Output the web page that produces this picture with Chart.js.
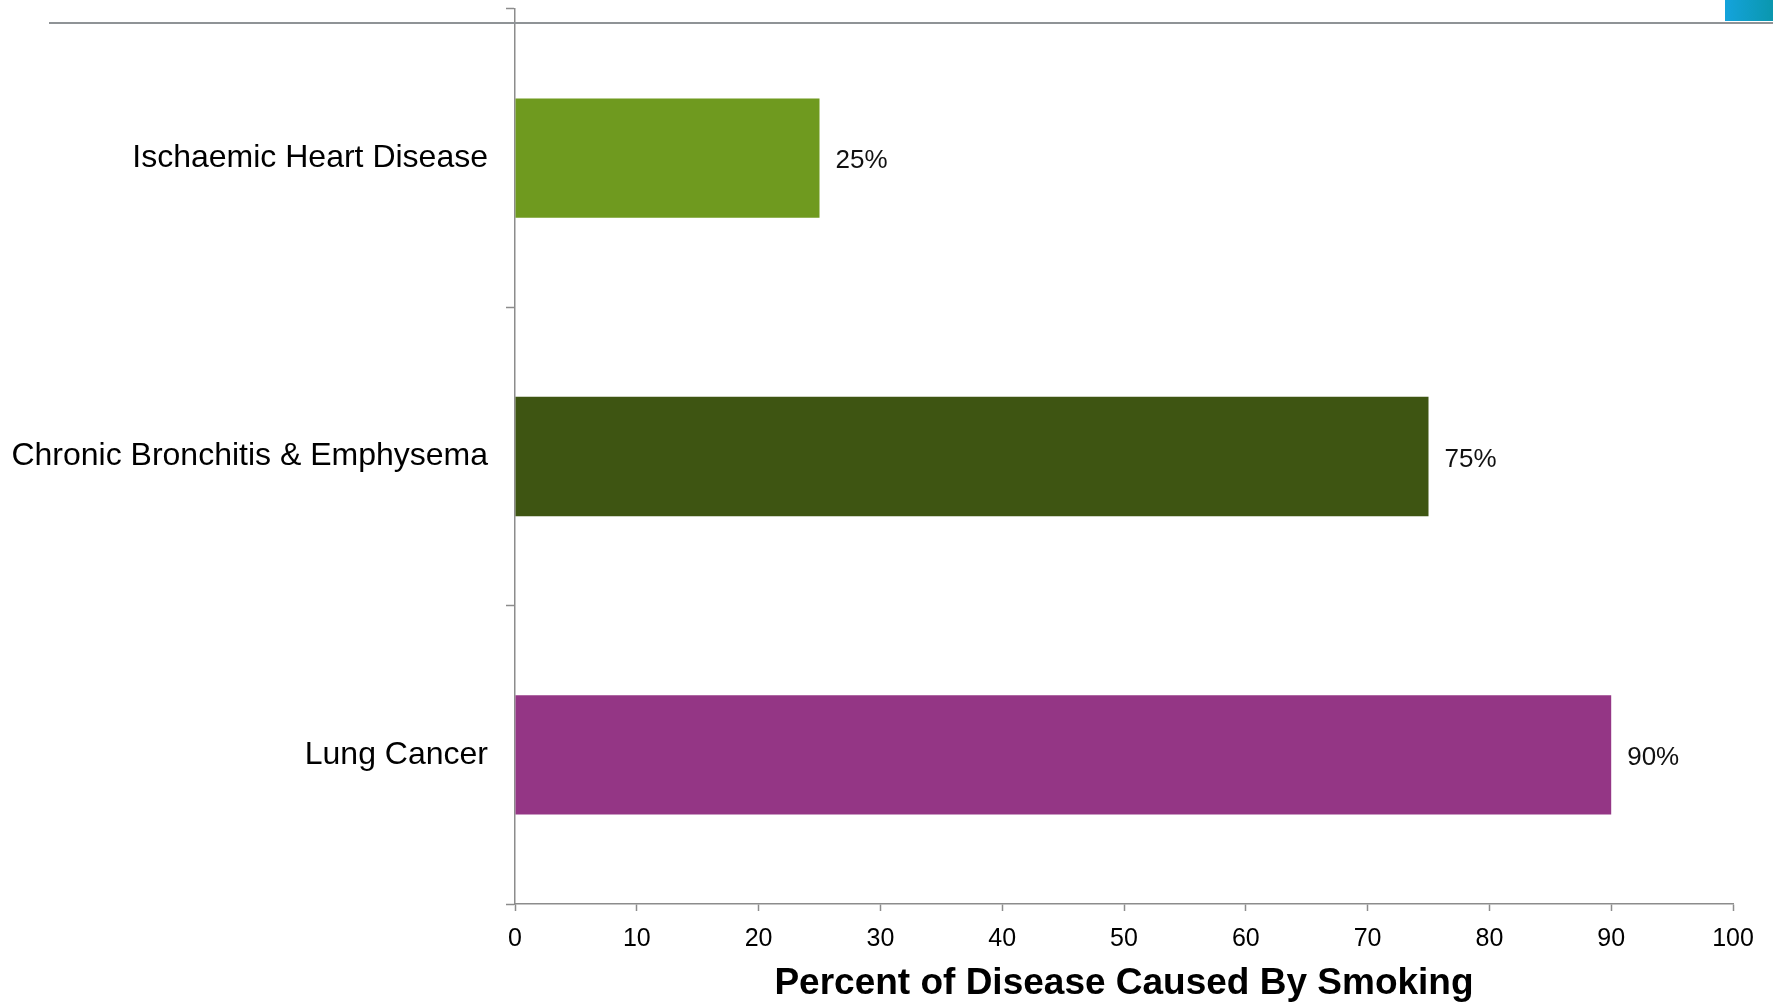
<!DOCTYPE html>
<html>
<head>
<meta charset="utf-8">
<script src="https://cdn.jsdelivr.net/npm/chart.js@4/dist/chart.umd.min.js"></script>
<style>
  html, body { margin: 0; padding: 0; background: #ffffff; overflow: hidden; }
  #wrap { position: relative; width: 1773px; height: 1002px; }
  #chart { position: absolute; left: 0; top: 0; }
  /* slide header rule and accent block */
  #rule { position: absolute; left: 49px; top: 22px; width: 1724px; height: 2px; background: #8f9396; }
  #accent { position: absolute; left: 1725px; top: 0; width: 48px; height: 21px;
            background: linear-gradient(to right, #14a3dc, #0a97ae); }
</style>
</head>
<body>
<div id="wrap">
  <canvas id="chart" width="1773" height="1002"></canvas>
  <div id="rule"></div>
  <div id="accent"></div>
</div>
<script>
// Share of each disease attributable to smoking (percent)
const categories = ["Ischaemic Heart Disease", "Chronic Bronchitis & Emphysema", "Lung Cancer"];
const percentValues = [25, 75, 90];
const barColors = ["#6f9a1f", "#3e5512", "#943685"];
const xTickValues = [0, 10, 20, 30, 40, 50, 60, 70, 80, 90, 100];
const xAxisTitle = "Percent of Disease Caused By Smoking";

const FONT = "'Liberation Sans', Arial, Helvetica, sans-serif";
const AXIS_GREY = "#8c8c8c";

// Writes "NN%" just past the end of each bar
const valueLabels = {
  id: "valueLabels",
  afterDatasetsDraw(chart) {
    const ctx = chart.ctx;
    const meta = chart.getDatasetMeta(0);
    ctx.save();
    ctx.font = "26px " + FONT;
    ctx.fillStyle = "#111111";
    ctx.textAlign = "left";
    ctx.textBaseline = "middle";
    meta.data.forEach((bar, i) => {
      const v = chart.data.datasets[0].data[i];
      ctx.fillText(v + "%", bar.x + 16, bar.y + 3);
    });
    ctx.restore();
  }
};

new Chart(document.getElementById("chart"), {
  type: "bar",
  data: {
    labels: categories,
    datasets: [{
      data: percentValues,
      backgroundColor: barColors,
      borderWidth: 0,
      categoryPercentage: 1.0,
      barPercentage: 0.4
    }]
  },
  options: {
    indexAxis: "y",
    responsive: false,
    animation: false,
    layout: { padding: { left: 0, right: 40, top: 9, bottom: 0 } },
    plugins: {
      legend: { display: false },
      tooltip: { enabled: false },
      title: { display: false }
    },
    scales: {
      x: {
        type: "linear",
        min: 0,
        max: 100,
        afterBuildTicks(scale) {
          scale.ticks = xTickValues.map(v => ({ value: v }));
        },
        afterFit(scale) {
          scale.height = 98;
          scale.paddingLeft = 0;
          scale.paddingRight = 0;
        },
        border: { display: true, color: AXIS_GREY, width: 1.5 },
        grid: {
          drawOnChartArea: false,
          drawTicks: true,
          tickLength: 7,
          tickColor: AXIS_GREY,
          tickWidth: 1.5
        },
        ticks: {
          color: "#000000",
          font: { family: FONT, size: 25 },
          padding: 13,
          maxRotation: 0
        },
        title: {
          display: true,
          text: xAxisTitle,
          color: "#000000",
          font: { family: FONT, size: 37, weight: "bold" },
          padding: { top: 0, bottom: -4 }
        }
      },
      y: {
        type: "category",
        offset: true,
        afterFit(scale) {
          scale.width = 515;
          scale.paddingTop = 0;
          scale.paddingBottom = 0;
        },
        border: { display: true, color: AXIS_GREY, width: 1.5 },
        grid: {
          offset: true,
          drawOnChartArea: false,
          drawTicks: true,
          tickLength: 9,
          tickColor: AXIS_GREY,
          tickWidth: 1.5
        },
        ticks: {
          color: "#000000",
          font: { family: FONT, size: 32 },
          padding: 18
        }
      }
    }
  },
  plugins: [valueLabels]
});
</script>
</body>
</html>
